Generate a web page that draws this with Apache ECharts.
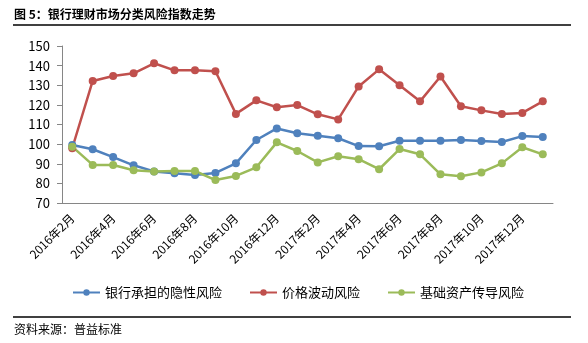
<!DOCTYPE html>
<html>
<head>
<meta charset="utf-8">
<script src="https://cdn.jsdelivr.net/npm/echarts@6/dist/echarts.min.js"></script>
<style>
  html, body { margin: 0; padding: 0; background: #fff; }
  #chart { width: 588px; height: 343px; }
</style>
</head>
<body>
<div id="chart"></div>
<script>
// Monthly categories, 2016-02 .. 2018-01
const months = [
  '2016年2月','2016年3月','2016年4月','2016年5月','2016年6月','2016年7月',
  '2016年8月','2016年9月','2016年10月','2016年11月','2016年12月','2017年1月',
  '2017年2月','2017年3月','2017年4月','2017年5月','2017年6月','2017年7月',
  '2017年8月','2017年9月','2017年10月','2017年11月','2017年12月','2018年1月'
];

const seriesNames = ['银行承担的隐性风险', '价格波动风险', '基础资产传导风险'];

const implicitRisk = [
  99.6, 97.4, 93.4, 89.2, 86.1, 85.1, 84.3, 85.3, 90.2, 102.1, 108.0, 105.5,
  104.3, 103.0, 99.0, 98.9, 101.7, 101.7, 101.7, 102.1, 101.6, 101.1, 104.1, 103.6
];
const priceRisk = [
  97.9, 132.2, 134.7, 136.1, 141.2, 137.6, 137.6, 137.1, 115.4, 122.3, 118.8, 119.9,
  115.2, 112.6, 129.4, 138.1, 130.0, 121.8, 134.5, 119.3, 117.2, 115.4, 115.9, 121.8
];
const assetRisk = [
  98.7, 89.4, 89.4, 86.7, 86.1, 86.3, 86.3, 81.7, 83.8, 88.2, 100.9, 96.5,
  90.7, 93.8, 92.3, 87.2, 97.5, 94.8, 84.6, 83.6, 85.6, 90.2, 98.4, 94.8
];

const colors = ['#4F81BD', '#C0504D', '#9BBB59'];
const FONT = '"Noto Sans CJK SC", "Noto Sans", sans-serif';

function lineSeries(name, data, color) {
  return {
    name: name,
    type: 'line',
    data: data,
    symbol: 'circle',
    symbolSize: 8,
    lineStyle: { color: color, width: 2.5 },
    itemStyle: { color: color },
    emphasis: { disabled: true },
    animation: false
  };
}

const chart = echarts.init(document.getElementById('chart'));
chart.setOption({
  animation: false,
  textStyle: { fontFamily: FONT },
  grid: { left: 62, right: 35, top: 46, bottom: 140 },
  xAxis: {
    type: 'category',
    data: months,
    boundaryGap: true,
    axisLine: { lineStyle: { color: '#868686', width: 1 } },
    axisTick: { interval: 1, length: 5, lineStyle: { color: '#868686' } },
    axisLabel: {
      interval: 1, rotate: 45, color: '#000', fontSize: 12, fontFamily: FONT, margin: 13
    },
    splitLine: { show: false }
  },
  yAxis: {
    type: 'value',
    min: 70, max: 150, interval: 10,
    axisLine: { show: true, lineStyle: { color: '#868686', width: 1 } },
    axisTick: { show: true, length: 5, lineStyle: { color: '#868686' } },
    axisLabel: { color: '#000', fontSize: 13, fontFamily: FONT, margin: 12 },
    splitLine: { show: false }
  },
  legend: {
    data: seriesNames,
    left: 67,
    top: 281,
    itemWidth: 27,
    itemHeight: 8,
    itemGap: 27,
    textStyle: { color: '#000', fontSize: 13, fontFamily: FONT }
  },
  series: [
    lineSeries(seriesNames[0], implicitRisk, colors[0]),
    lineSeries(seriesNames[1], priceRisk, colors[1]),
    lineSeries(seriesNames[2], assetRisk, colors[2])
  ],
  graphic: [
    {
      type: 'text', left: 14, top: 8,
      style: { text: '图 5：银行理财市场分类风险指数走势', font: 'bold 12px ' + FONT, fill: '#000' }
    },
    {
      type: 'line', shape: { x1: 13, y1: 25, x2: 571, y2: 25 },
      style: { stroke: '#000', lineWidth: 1.5 }
    },
    {
      type: 'line', shape: { x1: 13, y1: 317, x2: 571, y2: 317 },
      style: { stroke: '#000', lineWidth: 1.5 }
    },
    {
      type: 'text', left: 14, top: 323,
      style: { text: '资料来源：普益标准', font: '12px ' + FONT, fill: '#000' }
    }
  ]
});
</script>
</body>
</html>
